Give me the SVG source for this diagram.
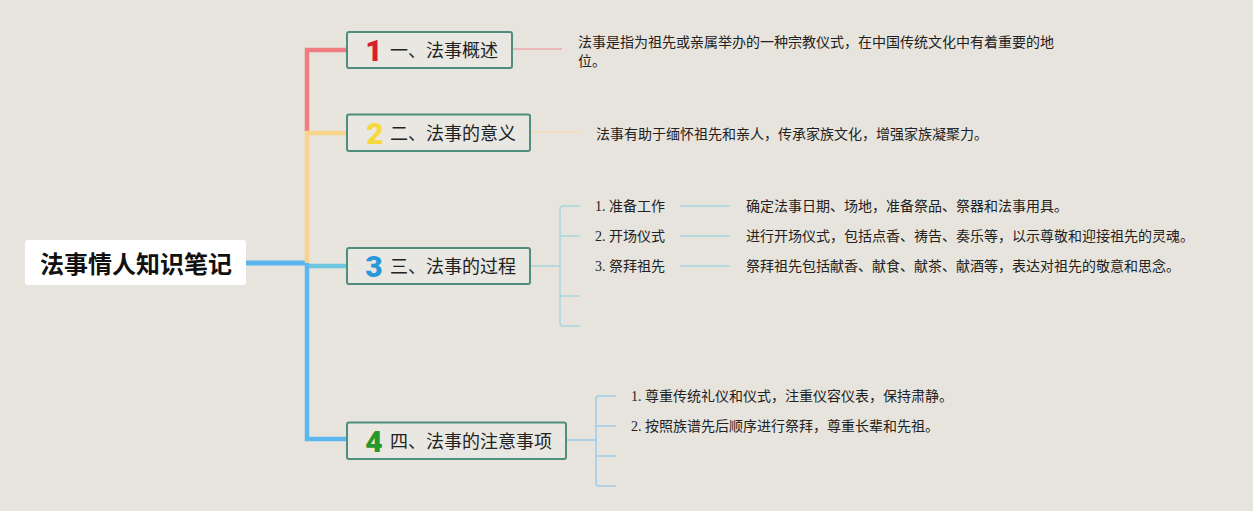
<svg xmlns="http://www.w3.org/2000/svg" width="1253" height="511" viewBox="0 0 1253 511">
<style>
.bg{fill:#e7e4dd}
.box{fill:#e9e7e1;stroke:#4f8d7c;stroke-width:2}
.t{font-family:"Noto Sans CJK SC","Noto Sans",sans-serif;font-size:18px;fill:#222}
.num{font-family:Roboto,"Liberation Sans",sans-serif;font-weight:900;font-size:30px}
.d{font-family:"Liberation Serif","Noto Sans CJK SC",serif;font-size:14px;fill:#222}
.root{font-family:"Noto Sans CJK SC",sans-serif;font-weight:bold;font-size:24px;fill:#111}
.c{fill:none;stroke-linecap:butt}
</style>
<rect class="bg" width="1253" height="511"/>
<g id="connectors">
<path class="c" d="M246 263 H307" stroke="#5ab4ee" stroke-width="5"/>
<path class="c" d="M347 50 H307 V131" stroke="#f07e80" stroke-width="4.5"/>
<path class="c" d="M347 133 H307 V263" stroke="#f8d38c" stroke-width="4.5"/>
<path class="c" d="M307 266 H347" stroke="#6cc6e0" stroke-width="4.5"/>
<path class="c" d="M307 263 V439 H347" stroke="#5db7f0" stroke-width="4.5"/>
<path class="c" d="M512 49 H562" stroke="#eeaaaa" stroke-width="1.5"/>
<path class="c" d="M530 132 H580" stroke="#f6dcb4" stroke-width="1.5"/>
<g stroke="#a9d5de" stroke-width="1.5" fill="none">
<path d="M530 266 H560"/>
<path d="M580 206 H563 Q560 206 560 209 V323 Q560 326 563 326 H580"/>
<path d="M560 236 H580 M560 296 H580"/>
<path d="M680 206 H730 M680 236 H730 M680 266 H730"/>
</g>
<g stroke="#9dcbea" stroke-width="1.5" fill="none">
<path d="M566 440 H596"/>
<path d="M616 396 H599 Q596 396 596 399 V483 Q596 486 599 486 H616"/>
<path d="M596 426 H616 M596 456 H616"/>
</g>
</g>
<g id="root">
<rect x="25" y="240" width="221" height="45" rx="3" fill="#ffffff"/>
<text class="root" x="136" y="273" text-anchor="middle">法事情人知识笔记</text>
</g>
<g id="n1">
<rect class="box" x="347" y="32" width="165" height="36" rx="2"/>
<text class="num" x="374" y="61" text-anchor="middle" fill="#d81f2e">1</text>
<text class="t" x="390" y="57">一、法事概述</text>
</g>
<g id="n1d">
<text class="d" x="578" y="47">法事是指为祖先或亲属举办的一种宗教仪式，在中国传统文化中有着重要的地</text>
<text class="d" x="578" y="66">位。</text>
</g>
<g id="n2">
<rect class="box" x="347" y="114.5" width="183" height="36.5" rx="2"/>
<text class="num" x="375" y="144" text-anchor="middle" fill="#f6d93c">2</text>
<text class="t" x="390" y="139.5">二、法事的意义</text>
</g>
<g id="n2d">
<text class="d" x="596" y="139">法事有助于缅怀祖先和亲人，传承家族文化，增强家族凝聚力。</text>
</g>
<g id="n3">
<rect class="box" x="347" y="248" width="183" height="36" rx="2"/>
<text class="num" x="374" y="277" text-anchor="middle" fill="#2898d8">3</text>
<text class="t" x="390" y="273">三、法事的过程</text>
</g>
<g id="n3a"><text class="d" x="595" y="211">1. 准备工作</text></g>
<g id="n3b"><text class="d" x="595" y="241">2. 开场仪式</text></g>
<g id="n3c"><text class="d" x="595" y="271">3. 祭拜祖先</text></g>
<g id="n3ad"><text class="d" x="746" y="211">确定法事日期、场地，准备祭品、祭器和法事用具。</text></g>
<g id="n3bd"><text class="d" x="746" y="241">进行开场仪式，包括点香、祷告、奏乐等，以示尊敬和迎接祖先的灵魂。</text></g>
<g id="n3cd"><text class="d" x="746" y="271">祭拜祖先包括献香、献食、献茶、献酒等，表达对祖先的敬意和思念。</text></g>
<g id="n4">
<rect class="box" x="347" y="422.5" width="219" height="36.5" rx="2"/>
<text class="num" x="374" y="452" text-anchor="middle" fill="#24982a">4</text>
<text class="t" x="390" y="447.5">四、法事的注意事项</text>
</g>
<g id="n4a"><text class="d" x="631" y="401">1. 尊重传统礼仪和仪式，注重仪容仪表，保持肃静。</text></g>
<g id="n4b"><text class="d" x="631" y="431">2. 按照族谱先后顺序进行祭拜，尊重长辈和先祖。</text></g>
</svg>
